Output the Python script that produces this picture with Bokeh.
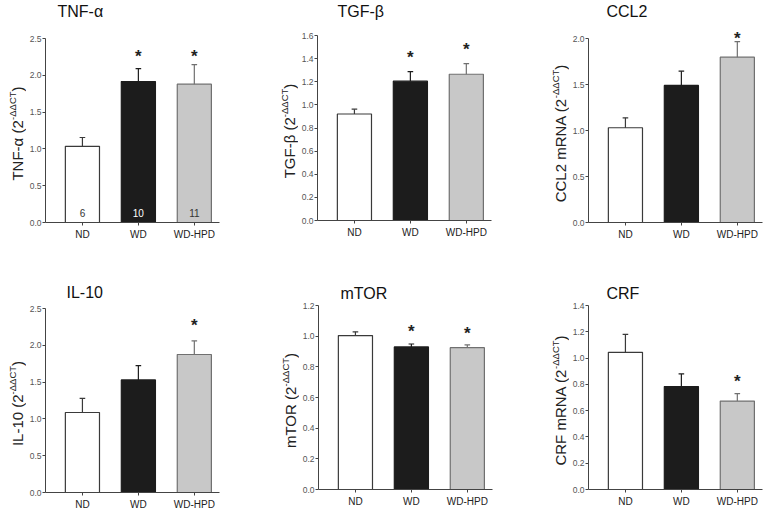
from bokeh.plotting import figure
from bokeh.models import Range1d, FixedTicker, NumeralTickFormatter, Label
from bokeh.layouts import row, column
from bokeh.embed import file_html
from bokeh.resources import INLINE
import math

# ---------------- data ----------------
groups = ["ND", "WD", "WD-HPD"]
group_x = [0, 1, 2]

titles = ["TNF-α", "TGF-β", "CCL2", "IL-10", "mTOR", "CRF"]
ylabel_main = ["TNF-α (2", "TGF-β (2", "CCL2 mRNA (2", "IL-10 (2", "mTOR (2", "CRF mRNA (2"]
ylabel_sup = "-ΔΔCT"

tnf_mean = [1.035, 1.915, 1.88]
tnf_sem = [0.12, 0.175, 0.265]
tgf_mean = [0.921, 1.205, 1.265]
tgf_sem = [0.042, 0.083, 0.092]
ccl2_mean = [1.03, 1.49, 1.797]
ccl2_sem = [0.108, 0.155, 0.17]
il10_mean = [1.087, 1.53, 1.875]
il10_sem = [0.193, 0.195, 0.185]
mtor_mean = [1.004, 0.93, 0.925]
mtor_sem = [0.024, 0.019, 0.018]
crf_mean = [1.044, 0.783, 0.673]
crf_sem = [0.136, 0.096, 0.056]

# asterisk heights (None = not significant)
tnf_star = [None, 2.31, 2.31]
tgf_star = [None, 1.442, 1.511]
ccl2_star = [None, None, 2.04]
il10_star = [None, None, 2.33]
mtor_star = [None, 1.057, 1.044]
crf_star = [None, None, 0.854]

tnf_counts = ["6", "10", "11"]

ticks_25 = [0.0, 0.5, 1.0, 1.5, 2.0, 2.5]
ticks_16 = [0.0, 0.2, 0.4, 0.6, 0.8, 1.0, 1.2, 1.4, 1.6]
ticks_20 = [0.0, 0.5, 1.0, 1.5, 2.0]
ticks_12 = [0.0, 0.2, 0.4, 0.6, 0.8, 1.0, 1.2]
ticks_14 = [0.0, 0.2, 0.4, 0.6, 0.8, 1.0, 1.2, 1.4]

# ---------------- style ----------------
FONT = "Liberation Sans"
bar_fill = ["#ffffff", "#1c1c1c", "#c8c8c8"]
bar_line = ["#3a3a3a", "#1c1c1c", "#707070"]
err_line = ["#3a3a3a", "#1c1c1c", "#707070"]
count_color = ["#333333", "#ffffff", "#333333"]

WIDTHS = {'T': 611, 'N': 722, 'F': 611, '-': 333, 'α': 600, ' ': 278, '(': 333, ')': 333,
          '2': 556, 'G': 778, 'β': 580, 'C': 722, 'L': 556, 'm': 833, 'R': 722, 'A': 667,
          'I': 278, '1': 556, '0': 556, 'O': 778, 'Δ': 668}
MID = 0.3465      # centre of the font box above the baseline, in em


def text_w(s, size):
    return sum(WIDTHS.get(c, 600) for c in s) / 1000.0 * size


X0, X1 = -0.66, 2.45
FW = 174          # frame width
BL = 17           # room for y tick labels
MAIN_FS, SUP_FS = 15, 9.5


def panel(idx, mean, sem, ticks, stars, label_w, br, fig_top, fig_h, plot_top, plot_bottom,
          tdx, title_mid, counts=None):
    ymax = ticks[-1]
    fh = plot_bottom - fig_top
    bb = fig_h - fh
    y_end = ymax * fh / (plot_bottom - plot_top)

    # ---- main plot ----
    p = figure(frame_width=FW, frame_height=fh, min_border_left=BL, min_border_right=br,
               min_border_top=0, min_border_bottom=bb,
               x_range=Range1d(X0, X1), y_range=Range1d(0, y_end),
               output_backend="svg", toolbar_location=None, tools="")
    p.outline_line_color = None
    p.grid.visible = False

    tops = [m + s for m, s in zip(mean, sem)]
    p.vbar(x=group_x, top=mean, bottom=0, width=0.61, fill_color=bar_fill,
           line_color=bar_line, line_width=1.2)
    p.segment(x0=group_x, y0=mean, x1=group_x, y1=tops, line_color=err_line, line_width=1.2)
    p.segment(x0=[x - 0.05 for x in group_x], y0=tops, x1=[x + 0.05 for x in group_x],
              y1=tops, line_color=err_line, line_width=1.2)

    xa = p.xaxis[0]
    xa.ticker = FixedTicker(ticks=group_x)
    xa.major_label_overrides = {gx: g for gx, g in zip(group_x, groups)}
    xa.major_tick_in = 0
    xa.major_tick_out = 3
    xa.minor_tick_line_color = None
    xa.axis_line_color = "#444444"
    xa.major_tick_line_color = "#444444"
    xa.major_label_text_font = FONT
    xa.major_label_text_font_size = "10px"
    xa.major_label_text_color = "#222222"
    xa.major_label_standoff = 3

    ya = p.yaxis[0]
    ya.ticker = FixedTicker(ticks=ticks)
    ya.formatter = NumeralTickFormatter(format="0.0")
    ya.bounds = (0, ymax)
    ya.major_tick_in = 0
    ya.major_tick_out = 3
    ya.minor_tick_line_color = None
    ya.axis_line_color = "#444444"
    ya.major_tick_line_color = "#444444"
    ya.major_label_text_font = FONT
    ya.major_label_text_font_size = "8.5px"
    ya.major_label_text_color = "#555555"
    ya.major_label_standoff = 1

    # panel title (inside the extended frame, above the axis)
    p.add_layout(Label(x=X0, y=y_end, x_offset=tdx, y_offset=-(title_mid - fig_top),
                       text=titles[idx], text_font=FONT, text_font_size="16px",
                       text_color="#111111", text_baseline="middle", text_align="left"))

    for gx, sy in zip(group_x, stars):
        if sy is not None:
            p.add_layout(Label(x=gx, y=sy, y_offset=-4, text="*", text_font=FONT,
                               text_font_size="17px", text_font_style="bold",
                               text_color="#222222", text_align="center",
                               text_baseline="middle"))
    if counts:
        for gx, c, col in zip(group_x, counts, count_color):
            p.add_layout(Label(x=gx, y=0, y_offset=10, text=c, text_font=FONT,
                               text_font_size="10px", text_color=col, text_align="center",
                               text_baseline="middle"))

    # ---- y-axis title strip ----
    q = figure(frame_width=label_w, frame_height=fig_h, min_border=0,
               x_axis_location=None, y_axis_location=None,
               x_range=Range1d(0, label_w), y_range=Range1d(0, fig_h),
               output_backend="svg", toolbar_location=None, tools="")
    q.outline_line_color = None
    q.grid.visible = False
    main = ylabel_main[idx]
    lm = text_w(main, MAIN_FS)
    ls = text_w(ylabel_sup, SUP_FS)
    lp = text_w(")", MAIN_FS)
    total = lm + ls + lp
    center_page = (plot_top + plot_bottom) / 2 + 3
    yc = fig_h - (center_page - fig_top)
    y0 = yc - total / 2
    base = label_w + BL - 21                 # baseline of the rotated main text
    main_x = base - MID * MAIN_FS
    sup_x = base - 6.5 - MID * SUP_FS
    common = dict(angle=math.pi / 2, text_font=FONT, text_color="#222222",
                  text_baseline="middle", text_align="left")
    q.add_layout(Label(x=main_x, y=y0, text=main, text_font_size=f"{MAIN_FS}px", **common))
    q.add_layout(Label(x=sup_x, y=y0 + lm, text=ylabel_sup,
                       text_font_size=f"{SUP_FS}px", **common))
    q.add_layout(Label(x=main_x, y=y0 + lm + ls, text=")", text_font_size=f"{MAIN_FS}px",
                       **common))
    return row(q, p)


H1, H2 = 256, 256
p1 = panel(0, tnf_mean, tnf_sem, ticks_25, tnf_star, 26, 59, 0, H1, 38, 222, 12, 11,
           counts=tnf_counts)
p2 = panel(1, tgf_mean, tgf_sem, ticks_16, tgf_star, 20, 58, 0, H1, 35, 220, 20, 10.5)
p3 = panel(2, ccl2_mean, ccl2_sem, ticks_20, ccl2_star, 20, 11, 0, H1, 38, 222, 18, 10.5)
p4 = panel(3, il10_mean, il10_sem, ticks_25, il10_star, 26, 59, H1, H2, 308, 492, 21, 291.5)
p5 = panel(4, mtor_mean, mtor_sem, ticks_12, mtor_star, 21, 57, H1, H2, 305, 489, 22, 292.5)
p6 = panel(5, crf_mean, crf_sem, ticks_14, crf_star, 20, 11, H1, H2, 305, 489, 18, 292.5)

layout = column(row(p1, p2, p3), row(p4, p5, p6))
open("out.html", "w").write(file_html(layout, INLINE))
